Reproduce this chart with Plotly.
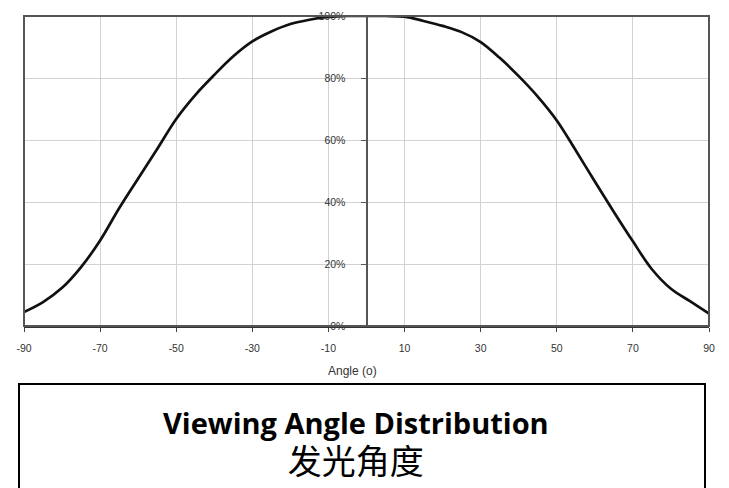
import plotly.graph_objects as go

# ---- data ----
angles = [-90, -85, -80, -75, -70, -65, -60, -55, -50, -45, -40, -35, -30, -25, -20, -15, -10, -5,
          0, 5, 10, 15, 20, 25, 30, 35, 40, 45, 50, 55, 60, 65, 70, 75, 80, 85, 90]
intensity_pct = [4.5, 7.7, 12.3, 19.0, 27.6, 38.0, 47.6, 57.1, 66.8, 74.5, 81.0, 87.0, 91.8, 95.0, 97.4, 98.8, 99.7, 100.0,
                 100.0, 100.0, 99.8, 98.4, 96.8, 94.8, 91.6, 86.5, 80.6, 74.0, 66.3, 56.6, 46.6, 36.8, 27.3, 18.3, 12.0, 8.0, 4.0]
x_tick_vals = [-90, -70, -50, -30, -10, 10, 30, 50, 70, 90]
x_tick_text = ["-90", "-70", "-50", "-30", "-10", "10", "30", "50", "70", "90"]
y_tick_vals = [0, 0.2, 0.4, 0.6, 0.8, 1.0]
x_title = "Angle (o)"
title_en = "Viewing Angle Distribution"
title_cn = "发光角度"

W, H = 729, 488
L, R, T, B = 24, 709, 10, 326  # plot area in px


def px(xp):
    return (xp - L) / (R - L)


def py(yp):
    return (B - yp) / (B - T)


fig = go.Figure()
fig.add_trace(go.Scatter(
    x=angles,
    y=[v / 100 for v in intensity_pct],
    mode="lines",
    line=dict(color="#111111", width=2.7, shape="spline", smoothing=1.0),
    hoverinfo="x+y",
    showlegend=False,
))

tick_font = dict(family="Liberation Sans, Arial", size=10.5, color="#333333")

caption = ('<span style="font-size:29px"><b>' + title_en + '</b></span><br>'
           '<span style="font-size:34px">' + title_cn + '</span>')

fig.update_layout(
    width=W, height=H,
    margin=dict(l=L, r=W - R, t=T, b=H - B),
    paper_bgcolor="white",
    plot_bgcolor="white",
    xaxis=dict(
        range=[-90, 90],
        tickvals=x_tick_vals,
        ticktext=x_tick_text,
        showgrid=True, gridcolor="#d2d2d2", gridwidth=1.2,
        zeroline=False,
        showline=True, linecolor="#333333", linewidth=2.2,
        ticks="outside", ticklen=4, tickcolor="#444444", tickwidth=1,
        ticklabelstandoff=7,
        tickfont=tick_font,
        fixedrange=True,
    ),
    yaxis=dict(
        range=[0, 1],
        tickvals=y_tick_vals,
        tickformat=".0%",
        showgrid=True, gridcolor="#d2d2d2", gridwidth=1.2,
        zeroline=False,
        anchor="free", position=0.5,
        showline=True, linecolor="#555555", linewidth=2,
        ticks="outside", ticklen=5, tickcolor="#555555", tickwidth=1,
        ticklabelstandoff=13,
        tickfont=tick_font,
        fixedrange=True,
    ),
    shapes=[
        # plot frame
        dict(type="rect", xref="paper", yref="paper", x0=0, x1=1, y0=0, y1=1,
             line=dict(color="#555555", width=2), layer="above"),
        # caption box
        dict(type="rect", xref="paper", yref="paper",
             x0=px(19), x1=px(705), y0=py(385), y1=py(500),
             line=dict(color="#000000", width=2)),
    ],
    annotations=[
        dict(text=x_title, xref="paper", yref="paper", x=px(352), y=py(372),
             showarrow=False, xanchor="center", yanchor="middle",
             font=dict(family="Liberation Sans, Arial", size=12, color="#333333")),
        dict(text=caption, xref="paper", yref="paper", x=px(356), y=py(446),
             showarrow=False, xanchor="center", yanchor="middle",
             font=dict(family="Open Sans, Noto Sans CJK SC", size=31, color="#000000")),
    ],
)

fig.write_html("out.html", config={"displayModeBar": False},
               post_script="document.body.style.margin='0';")
